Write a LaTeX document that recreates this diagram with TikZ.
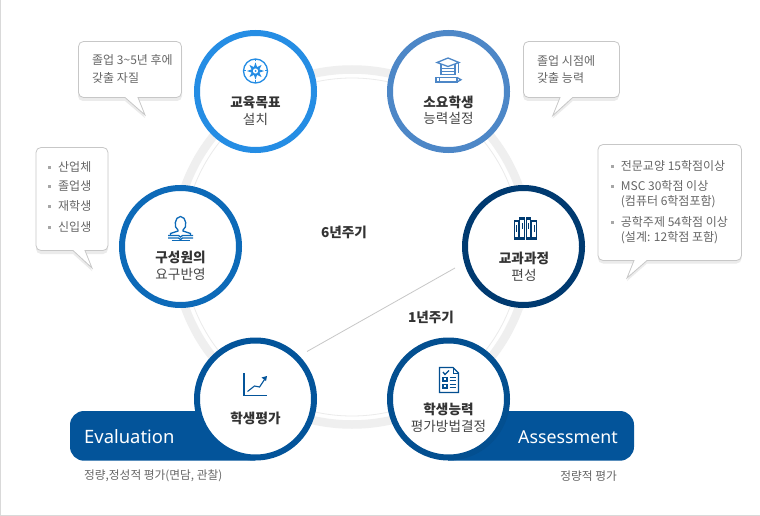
\documentclass[tikz,border=0pt]{standalone}
\usepackage{fontspec}
\setmainfont{Noto Sans CJK KR}
\newfontfamily\latinf{Noto Sans}
\definecolor{cA}{HTML}{258DE4}
\definecolor{cB}{HTML}{4D87C7}
\definecolor{cC}{HTML}{0D6AB8}
\definecolor{cD}{HTML}{003A70}
\definecolor{cE}{HTML}{03549A}
\definecolor{cF}{HTML}{034F90}
\definecolor{ringc}{HTML}{EFEFEF}
\definecolor{txt}{HTML}{333333}
\definecolor{soft}{HTML}{666666}
\tikzset{
  x=1pt,y=-1pt,
  cyc/.style={circle,draw,fill=white,line width=6pt,minimum size=117pt,inner sep=0pt,outer sep=0pt},
  tit/.style={inner sep=0pt,text=txt,font=\fontsize{13.6}{15}\selectfont\bfseries},
  sub/.style={inner sep=0pt,text=txt!90,font=\fontsize{13.6}{15}\selectfont},
  note/.style={inner sep=0pt,anchor=west,text=soft,font=\fontsize{12}{14}\selectfont},
  low/.style={inner sep=0pt,text=soft,font=\fontsize{11.7}{14}\selectfont},
  bul/.style={fill=gray!70,minimum size=3pt,inner sep=0pt},
  bubble/.style={draw=black!22,fill=white,line width=0.8pt},
  shade/.style={fill=black!8,draw=none},
  ban/.style={inner sep=0pt,text=white,font=\latinf\fontsize{18}{20}\selectfont},
  ico/.style={line width=1.3pt,line cap=butt,line join=miter},
}
\newcommand{\bubblepath}[8]{%
  (#1+5,#2) -- (#3-5,#2) .. controls (#3-2.2,#2) and (#3,#2+2.2) .. (#3,#2+5)
  -- (#3,#4-5) .. controls (#3,#4-2.2) and (#3-2.2,#4) .. (#3-5,#4)
  -- (#8,#4) -- (#6,#7) -- (#5,#4) -- (#1+5,#4) .. controls (#1+2.2,#4) and (#1,#4-2.2) .. (#1,#4-5)
  -- (#1,#2+5) .. controls (#1,#2+2.2) and (#1+2.2,#2) .. (#1+5,#2) -- cycle}
\begin{document}
\begin{tikzpicture}
\useasboundingbox (0,0) rectangle (760,516);
\fill[white] (0,0) rectangle (760,516);
\draw[black!15,line width=1pt] (0.5,-2) -- (0.5,515.5) -- (762,515.5);
% ring
\coordinate (ringc) at (352,247);
\draw[ringc,line width=8.5pt] (ringc) circle[radius=177.5];
\draw[black!8,line width=0.8pt] (ringc) circle[radius=169];
% one-year divider
\coordinate (lineA) at (455,268);
\coordinate (lineB) at (307,351.5);
\draw[black!22,line width=0.8pt] (lineA) -- (lineB);
% banners
\fill[cE] (84,411) -- (255,411) -- (255,460.7) -- (84,460.7) .. controls (76.3,460.7) and (70,454.4) .. (70,446.7) -- (70,425) .. controls (70,417.3) and (76.3,411) .. (84,411) -- cycle;
\fill[cE] (448,411) -- (620,411) .. controls (627.7,411) and (634,417.3) .. (634,425) -- (634,446.7) .. controls (634,454.4) and (627.7,460.7) .. (620,460.7) -- (448,460.7) -- cycle;
% bubbles
\fill[shade,yshift=-3pt] \bubblepath{78}{42}{182}{98}{125}{145}{115}{138};
\fill[shade,yshift=-3pt] \bubblepath{523}{42}{619}{98}{560}{552.7}{115.7}{572.7};
\fill[shade,yshift=-3pt] \bubblepath{36}{147}{108}{251}{73}{92}{268}{85};
\fill[shade,yshift=-3pt] \bubblepath{598}{144.5}{741.5}{260.5}{634}{627}{278}{647};
\draw[bubble] \bubblepath{78.5}{41.5}{181.5}{97.5}{125}{145}{115}{138};
\draw[bubble] \bubblepath{523.5}{41.5}{619.5}{97.5}{560}{552.7}{115.7}{572.7};
\draw[bubble] \bubblepath{36}{147.5}{108}{250.5}{73}{92}{268}{85};
\draw[bubble] \bubblepath{598}{144.5}{741.5}{260.5}{634}{627}{278}{647};
% circles
\node[cyc,draw=cA] (edu) at (255.5,91.5) {};
\node[cyc,draw=cB] (req) at (448.5,91.5) {};
\node[cyc,draw=cC] (mem) at (180.5,246.5) {};
\node[cyc,draw=cD] (cur) at (523.5,246.5) {};
\node[cyc,draw=cE] (eva) at (255.5,399) {};
\node[cyc,draw=cF] (ass) at (448.5,399) {};
% circle text
\node[tit] (t1) at (255.5,102.5) {교육목표};
\node[sub] (s1) at (255.5,119) {설치};
\node[tit] (t2) at (448.5,102) {소요학생};
\node[sub] (s2) at (448.5,118) {능력설정};
\node[tit] (t3) at (180.5,257.5) {구성원의};
\node[sub] (s3) at (180.5,274.5) {요구반영};
\node[tit] (t4) at (524,258) {교과과정};
\node[sub] (s4) at (524,275) {편성};
\node[tit] (t5) at (255.5,418) {학생평가};
\node[tit] (t6) at (448.5,409) {학생능력};
\node[sub] (s6) at (448.5,426) {평가방법결정};
% cycle labels
\node[tit] (six) at (344,232) {6년주기};
\node[tit] (one) at (431,317) {1년주기};
% banner labels
\node[ban,anchor=west,font=\latinf\fontsize{18.4}{20}\selectfont] (ev) at (84,437) {Evaluation};
\node[ban,anchor=east,font=\latinf\fontsize{17.8}{20}\selectfont] (as) at (618,437) {Assessment};
\node[low,anchor=west] (n1) at (84,476) {정량,정성적 평가(면담, 관찰)};
\node[low,anchor=east] (n2) at (617,476) {정량적 평가};
% bubble texts
\node[note] (b1a) at (92,60) {졸업 3\textasciitilde5년 후에};
\node[note] (b1b) at (92,78) {갖출 자질};
\node[note] (b2a) at (537,61) {졸업 시점에};
\node[note] (b2b) at (537,78) {갖출 능력};
\foreach \nm/\y/\tx in {c1/167/산업체,c2/186/졸업생,c3/206/재학생,c4/227/신입생}{
  \node[bul] at (49,\y) {};
  \node[note] (\nm) at (58,\y) {\tx};
}
\node[bul] at (612,166) {};
\node[note] (d1) at (620.7,166) {전문교양 15학점이상};
\node[bul] at (612,186) {};
\node[note] (d2) at (620.7,186) {MSC 30학점 이상};
\node[note] (d3) at (620.7,202) {(컴퓨터 6학점포함)};
\node[bul] at (612,222) {};
\node[note] (d4) at (620.7,222) {공학주제 54학점 이상};
\node[note] (d5) at (620.7,238) {(설계: 12학점 포함)};
% icon: compass
\begin{scope}[shift={(255.5,71)}]
  \draw[cA,line width=1.3pt] (0,0) circle[radius=12];
  \fill[cA] (0,-8.5) -- (1.6,-3.9) -- (6,-6) -- (3.9,-1.6) -- (8.5,0) -- (3.9,1.6) -- (6,6) -- (1.6,3.9) -- (0,8.5) -- (-1.6,3.9) -- (-6,6) -- (-3.9,1.6) -- (-8.5,0) -- (-3.9,-1.6) -- (-6,-6) -- (-1.6,-3.9) -- cycle;
  \fill[white] (0,0) circle[radius=2.6];
  \fill[cA] (0,0) circle[radius=1];
  \foreach \a in {0,90,180,270}{\draw[cA,line width=1pt,rotate=\a] (0,-12) -- (0,-9.5);}
\end{scope}
% icon: graduation cap
\begin{scope}[shift={(448,70)},cB,ico]
  \draw (0,-12) -- (11,-7.5) -- (0,-3.5) -- (-11,-7.5) -- cycle;
  \draw (-7,-5.5) -- (-7,4.5) -- (7,4.5) -- (7,-5.5);
  \draw[line width=1pt] (-7,-1) -- (7,-1);
  \draw[line width=1pt] (-7,2) -- (7,2);
  \draw[line width=1pt] (10,-7) -- (10,3);
  \draw (-12,7.5) rectangle (9,12);
  \draw (9,7.5) -- (13,9.75) -- (9,12);
  \draw[line width=1pt] (-9,7.5) -- (-9,12);
\end{scope}
% icon: person reading
\begin{scope}[shift={(180.5,228)},cC,ico]
  \draw (-2.5,2) .. controls (-7,0) and (-6,-11.5) .. (0,-11.5) .. controls (6,-11.5) and (7,0) .. (2.5,2) -- (2.5,3) -- (10,5.5) -- (10,7);
  \draw (-2.5,2) -- (-2.5,3) -- (-10,5.5) -- (-10,7);
  \draw (-12.5,7.5) -- (-2,7.5) -- (0,9) -- (2,7.5) -- (12.5,7.5);
  \draw (-12.5,10) -- (-2,10) -- (0,11.5) -- (2,10) -- (12.5,10);
  \draw (-9,12.2) -- (9,12.2);
\end{scope}
% icon: books
\begin{scope}[shift={(525.5,228.5)},cD]
  \foreach \x/\w/\t in {-9/2.5/-9,-3.2/3/-11.5,2.6/2.5/-11.5,8.5/2.8/-9}{
    \fill (\x-\w,\t) rectangle (\x+\w,11.5);
    \fill[white] (\x-\w+0.9,\t+2.5) rectangle (\x+\w-0.9,8);
    \fill (\x-0.5,\t+5.5) rectangle (\x+0.5,\t+12);
  }
\end{scope}
% icon: chart
\begin{scope}[shift={(255.5,384.5)},cE,line width=1.1pt]
  \draw (-11.5,-11.5) -- (-11.5,11) -- (11.5,11);
  \draw (-8,7) -- (-1,1.5) -- (4,2.5) -- (9,-5);
  \fill (11.5,-8.5) -- (6,-7) -- (10.5,-3.5) -- cycle;
\end{scope}
% icon: checklist
\begin{scope}[shift={(449,380)},cF,ico]
  \draw (-9.5,-12.5) -- (4,-12.5) -- (9.5,-7) -- (9.5,12.5) -- (-9.5,12.5) -- cycle;
  \draw[line width=1pt] (4,-12.5) -- (4,-7) -- (9.5,-7);
  \draw (-6,-8) -- (-4,-5.5) -- (0,-9.5);
  \draw[line width=1.1pt] (-6,-2.5) rectangle (-2,1);
  \draw[line width=1.1pt] (-6,4.5) rectangle (-2,8);
  \foreach \y in {-2.5,0.5,4.5,7.5}{\draw[line width=1.1pt] (0.5,\y) -- (6.5,\y);}
\end{scope}
\end{tikzpicture}
\end{document}
